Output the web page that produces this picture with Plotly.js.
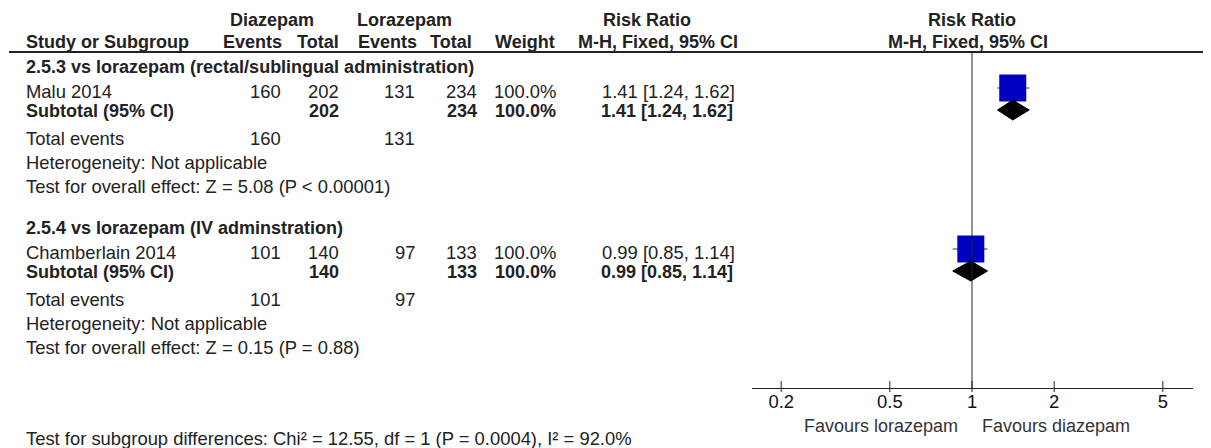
<!DOCTYPE html>
<html>
<head>
<meta charset="utf-8">
<script src="https://cdn.plot.ly/plotly-3.0.1.min.js"></script>
<style>
  html, body { margin: 0; padding: 0; background: #fff; }
  #chart { width: 1211px; height: 448px; }
</style>
</head>
<body>
<div id="chart"></div>
<script>
// ---------------- DATA ----------------
const subgroupLabels = [
  "2.5.3 vs lorazepam (rectal/sublingual administration)",
  "2.5.4 vs lorazepam (IV adminstration)"
];
const studyNames = ["Malu 2014", "Chamberlain 2014"];
const diazEvents = [160, 101];
const diazTotal = [202, 140];
const loraEvents = [131, 97];
const loraTotal = [234, 133];
const studyWeight = [100.0, 100.0];
const studyRR = [1.41, 0.99];
const studyLow = [1.24, 0.85];
const studyHigh = [1.62, 1.14];
const subtotalRR = [1.41, 0.99];
const subtotalLow = [1.24, 0.85];
const subtotalHigh = [1.62, 1.14];
const subtotalWeight = [100.0, 100.0];
const heterogeneity = ["Not applicable", "Not applicable"];
const overallZ = ["5.08", "0.15"];
const overallP = ["P < 0.00001", "P = 0.88"];
const tickVals = [0.2, 0.5, 1, 2, 5];
const tickText = ["0.2", "0.5", "1", "2", "5"];
const favoursLeft = "Favours lorazepam";
const favoursRight = "Favours diazepam";
const subgroupTest = "Test for subgroup differences: Chi² = 12.55, df = 1 (P = 0.0004), I² = 92.0%";

// ---------------- LAYOUT CONSTANTS (pixels) ----------------
const W = 1211, H = 448;
const FONT = "Liberation Sans, Arial, sans-serif";
const TXT = "#222";
const REG = 18.4, BOLD = 18;
const groupTop = [67, 228];
const OFF = { study: 24, subtotal: 44, events: 71, het: 95, test: 119 };
const COL = { name: 25, ev1: 282, tot1: 340, ev2: 416, tot2: 478, weight: 557, ci: 736 };
const HDR = { ev1: 283, tot1: 340, ev2: 418, tot2: 473, weight: 556, ci: 739 };
const AXIS_Y = 388, HEADER_LINE_Y = 52;
const PLOT_X0 = 752, PLOT_X1 = 1193, X_ONE = 972, PX_PER_DECADE = 273;

const px = v => v / W;
const ann = [];
function txt(x, y, s, opt) {
  opt = opt || {};
  ann.push({
    xref: "paper", yref: "y", x: px(x), y: y, text: s, showarrow: false,
    xanchor: opt.anchor || "left", yanchor: "middle", borderpad: 0,
    font: { family: FONT, size: opt.size || (opt.bold ? BOLD : REG), color: opt.color || TXT, weight: opt.bold ? "bold" : "normal" }
  });
}
const fmt2 = v => v.toFixed(2);
const ciStr = (r, l, h) => fmt2(r) + " [" + fmt2(l) + ", " + fmt2(h) + "]";

// headers
txt(272, 20, "Diazepam", { bold: true, anchor: "center" });
txt(404, 20, "Lorazepam", { bold: true, anchor: "center" });
txt(647, 20, "Risk Ratio", { bold: true, anchor: "center" });
txt(972, 20, "Risk Ratio", { bold: true, anchor: "center" });
txt(COL.name, 42, "Study or Subgroup", { bold: true });
txt(HDR.ev1, 42, "Events", { bold: true, anchor: "right" });
txt(HDR.tot1, 42, "Total", { bold: true, anchor: "right" });
txt(HDR.ev2, 42, "Events", { bold: true, anchor: "right" });
txt(HDR.tot2, 42, "Total", { bold: true, anchor: "right" });
txt(HDR.weight, 42, "Weight", { bold: true, anchor: "right" });
txt(HDR.ci, 42, "M-H, Fixed, 95% CI", { bold: true, anchor: "right" });
txt(968, 42, "M-H, Fixed, 95% CI", { bold: true, anchor: "center" });

const sqY = [], dmY = [];
for (let g = 0; g < subgroupLabels.length; g++) {
  const t = groupTop[g];
  const yS = t + OFF.study, ySub = t + OFF.subtotal;
  sqY.push(yS - 3); dmY.push(ySub - 1);
  txt(COL.name, t, subgroupLabels[g], { bold: true });
  txt(COL.name, yS, studyNames[g]);
  txt(COL.ev1, yS, String(diazEvents[g]), { anchor: "right" });
  txt(COL.tot1, yS, String(diazTotal[g]), { anchor: "right" });
  txt(COL.ev2, yS, String(loraEvents[g]), { anchor: "right" });
  txt(COL.tot2, yS, String(loraTotal[g]), { anchor: "right" });
  txt(COL.weight, yS, studyWeight[g].toFixed(1) + "%", { anchor: "right" });
  txt(COL.ci, yS, ciStr(studyRR[g], studyLow[g], studyHigh[g]), { anchor: "right" });
  txt(COL.name, ySub, "Subtotal (95% CI)", { bold: true });
  txt(COL.tot1, ySub, String(diazTotal[g]), { bold: true, anchor: "right" });
  txt(COL.tot2, ySub, String(loraTotal[g]), { bold: true, anchor: "right" });
  txt(COL.weight, ySub, subtotalWeight[g].toFixed(1) + "%", { bold: true, anchor: "right" });
  txt(COL.ci - 2, ySub, ciStr(subtotalRR[g], subtotalLow[g], subtotalHigh[g]), { bold: true, anchor: "right" });
  txt(COL.name, t + OFF.events, "Total events");
  txt(COL.ev1, t + OFF.events, String(diazEvents[g]), { anchor: "right" });
  txt(COL.ev2, t + OFF.events, String(loraEvents[g]), { anchor: "right" });
  txt(COL.name, t + OFF.het, "Heterogeneity: " + heterogeneity[g]);
  txt(COL.name, t + OFF.test, "Test for overall effect: Z = " + overallZ[g] + " (" + overallP[g] + ")");
}
txt(959, 426, favoursLeft, { anchor: "right", color: "#333", size: 18 });
txt(981, 426, favoursRight, { color: "#333", size: 18 });
txt(COL.name, 438, subgroupTest);

// ---------------- TRACES ----------------
const ciX = [], ciY = [];
for (let i = 0; i < studyRR.length; i++) { ciX.push(studyLow[i], studyHigh[i], null); ciY.push(sqY[i], sqY[i], null); }
const dX = [], dY = [];
const DH = 10;
for (let i = 0; i < subtotalRR.length; i++) {
  dX.push(subtotalLow[i], subtotalRR[i], subtotalHigh[i], subtotalRR[i], subtotalLow[i], null);
  dY.push(dmY[i], dmY[i] - DH, dmY[i], dmY[i] + DH, dmY[i], null);
}
const traces = [
  { x: ciX, y: ciY, mode: "lines", line: { color: "#333", width: 1 }, hoverinfo: "skip", cliponaxis: false, opacity: 1 },
  { x: studyRR, y: sqY, mode: "markers", hoverinfo: "skip", cliponaxis: false, opacity: 1,
    marker: { symbol: "square", opacity: 1, size: studyWeight.map(w => 27 * Math.sqrt(w / 100)), color: "#0000C0", line: { width: 0 } } },
  { x: dX, y: dY, mode: "lines", fill: "toself", fillcolor: "#000", opacity: 1, line: { color: "#000", width: 1 }, hoverinfo: "skip", cliponaxis: false }
];

// ---------------- SHAPES ----------------
const shapes = [
  { type: "line", xref: "paper", yref: "y", x0: px(9), x1: px(1203), y0: HEADER_LINE_Y, y1: HEADER_LINE_Y, line: { color: "#222", width: 2 } },
  { type: "line", xref: "x", yref: "y", x0: 1, x1: 1, y0: HEADER_LINE_Y, y1: AXIS_Y, line: { color: "#222", width: 1 } }
];
tickVals.forEach(v => shapes.push({ type: "line", xref: "x", yref: "y", x0: v, x1: v, y0: AXIS_Y - 7, y1: AXIS_Y + 4, line: { color: "#222", width: 1 } }));

const layout = {
  width: W, height: H, margin: { l: 0, r: 0, t: 0, b: 0 },
  paper_bgcolor: "#fff", plot_bgcolor: "#fff", showlegend: false, hovermode: false,
  xaxis: {
    type: "log",
    range: [(PLOT_X0 - X_ONE) / PX_PER_DECADE, (PLOT_X1 - X_ONE) / PX_PER_DECADE],
    domain: [PLOT_X0 / W, PLOT_X1 / W],
    anchor: "free", position: (H - AXIS_Y) / H,
    showline: true, linecolor: "#222", linewidth: 1,
    ticks: "", ticklabelstandoff: -3,
    tickmode: "array", tickvals: tickVals, ticktext: tickText,
    tickfont: { family: FONT, size: REG, color: "#111" },
    showgrid: false, zeroline: false, fixedrange: true
  },
  yaxis: { range: [H, 0], domain: [0, 1], visible: false, fixedrange: true },
  shapes: shapes, annotations: ann
};
Plotly.newPlot("chart", traces, layout, { displayModeBar: false, staticPlot: true });
</script>
</body>
</html>
